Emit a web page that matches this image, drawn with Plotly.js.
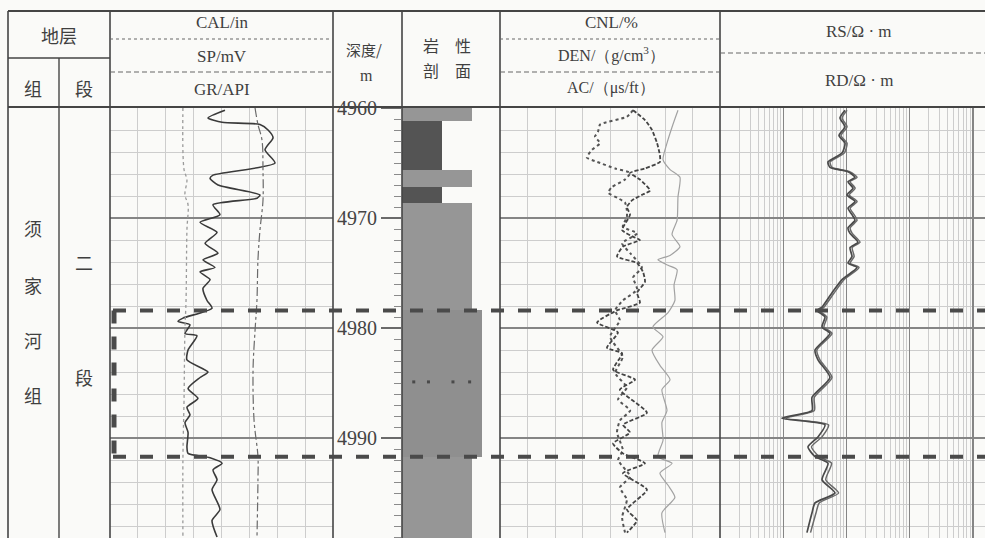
<!DOCTYPE html>
<html><head><meta charset="utf-8">
<script src="https://cdn.plot.ly/plotly-3.0.1.min.js"></script>
<style>html,body{margin:0;padding:0;background:#fafaf8;}</style>
</head><body><div id="chart" style="width:985px;height:538px;"></div>
<script>
// ---------------- data ----------------
const gr_depth = [4960.2,4960.9,4961.3,4961.5,4962.0,4962.7,4963.8,4965.0,4966.1,4966.4,4967.0,4967.9,4968.2,4968.8,4969.7,4970.4,4971.3,4972.3,4973.2,4973.8,4974.5,4974.9,4975.6,4976.4,4977.5,4978.2,4979.1,4979.4,4979.7,4980.5,4980.7,4982.0,4982.9,4984.0,4984.5,4985.5,4986.4,4987.2,4987.9,4988.6,4989.5,4990.8,4991.4,4991.8,4992.3,4992.9,4993.8,4994.7,4996.5,4997.5,4999.0];
const gr_api   = [82.5,70.3,80.4,107.6,113.4,117.0,111.2,118.4,73.9,71.8,77.5,107.6,105.5,73.9,78.9,64.6,76.8,68.2,77.5,66.7,75.3,64.6,71.8,66.7,69.6,73.2,52.4,48.8,57.4,53.8,62.4,56.0,55.2,70.3,64.6,56.0,63.1,55.2,57.4,53.8,56.0,55.2,56.0,71.8,80.4,73.9,76.8,73.2,78.9,73.2,76.8];

const cal_depth = [4960.0,4965.6,4966.5,4967.9,4968.8,4971.1,4977.5,4980.2,4986.5,4991.9,4999.1];
const cal_in    = [9.27,9.32,9.45,9.36,9.50,9.45,9.41,9.36,9.32,9.27,9.27];

const sp_depth = [4960.0,4961.5,4962.9,4965.6,4968.4,4971.1,4973.8,4977.5,4980.2,4983.8,4988.4,4991.7,4993.8,4999.1];
const sp_mv    = [30.1,32.7,36.3,37.2,37.2,34.5,32.7,31.8,30.1,28.3,29.2,32.7,32.7,31.8];

const cnl_depth = [4960.2,4960.8,4961.5,4962.2,4962.6,4963.2,4963.8,4964.5,4964.9,4965.5,4965.9,4966.5,4967.2,4967.7,4968.2,4968.6,4969.3,4969.9,4970.8,4971.4,4972.3,4973.2,4974.5,4975.4,4976.5,4977.5,4978.4,4979.3,4980.8,4982.6,4984.1,4985.4,4986.5,4987.5,4988.4,4989.5,4991.1,4992.0,4993.5,4994.5,4995.6,4997.2,4998.6];
const cnl_pct   = [8.7,10.4,17.7,18.3,19.1,17.7,19.9,21.3,18.5,13.6,9.5,10.9,14.5,15.5,12.8,10.9,10.4,10.4,11.5,7.6,11.7,9.5,6.3,8.7,7.6,11.5,13.6,12.3,15.0,11.5,13.6,10.4,12.8,9.5,12.3,13.1,11.5,12.8,9.5,12.3,10.4,11.7,10.9];

const den_depth = [4960.2,4961.1,4962.0,4963.2,4964.3,4964.9,4965.5,4965.9,4966.5,4967.5,4967.9,4968.4,4969.0,4969.7,4971.1,4971.7,4972.0,4972.6,4973.5,4974.1,4974.9,4975.8,4976.8,4977.7,4978.4,4979.5,4980.4,4981.8,4982.3,4983.8,4984.7,4985.6,4987.7,4988.8,4989.5,4990.5,4991.4,4992.3,4993.2,4994.7,4996.5,4997.5,4998.6];
const den_gcc   = [2.555,2.609,2.641,2.664,2.677,2.677,2.609,2.541,2.586,2.632,2.595,2.550,2.527,2.541,2.505,2.555,2.586,2.509,2.482,2.573,2.600,2.609,2.573,2.586,2.482,2.391,2.486,2.436,2.505,2.464,2.564,2.495,2.618,2.509,2.541,2.464,2.509,2.609,2.509,2.618,2.527,2.573,2.527];

const ac_depth = [4960.2,4961.5,4963.2,4964.7,4965.6,4966.3,4968.1,4970.2,4971.5,4972.6,4973.4,4973.8,4974.3,4974.7,4976.1,4977.5,4978.6,4979.9,4980.8,4982.0,4983.4,4984.7,4985.6,4987.5,4988.6,4990.2,4991.7,4992.3,4993.2,4994.3,4995.4,4996.8,4998.6];
const ac_usft  = [59.1,61.4,64.1,65.9,62.7,58.2,59.1,59.5,61.8,58.2,62.7,68.2,63.6,59.5,60.9,60.5,63.6,70.5,65.9,70.9,67.3,62.7,66.4,64.1,66.4,65.9,68.2,61.8,67.3,63.6,60.5,66.4,65.0];

const res_depth = [4960.2,4960.9,4961.7,4962.5,4963.2,4964.1,4964.9,4965.4,4965.8,4966.3,4966.7,4967.3,4967.9,4968.5,4969.1,4969.7,4970.2,4970.9,4971.4,4972.2,4972.7,4973.5,4974.1,4974.5,4975.6,4976.8,4978.1,4978.4,4979.0,4979.9,4980.5,4982.0,4982.9,4984.5,4986.3,4987.5,4988.2,4988.8,4989.9,4990.8,4991.7,4992.3,4993.8,4995.0,4995.9,4996.8,4998.6];
const rs_ohmm  = [94.7,78.9,94.7,76.1,94.7,84.9,51.0,54.8,105.6,136.3,105.6,126.7,101.8,136.3,105.6,122.2,136.3,105.6,113.6,152.0,113.6,122.2,105.6,146.6,84.9,59.0,41.0,34.2,45.7,41.0,54.8,31.8,35.4,54.8,28.5,28.5,9.5,45.7,35.4,24.6,31.8,51.0,41.0,65.8,31.8,28.5,23.7];
const rd_ohmm  = [102,85,102,82,102,92,55,59,114,147,114,137,110,147,114,132,147,114,123,164,123,132,114,158,92,64,44,37,49,44,59,34,38,59,31,31,11,52,41,28,37,58,47,75,37,33,27];

const litho_top    = [4960.0,4961.2,4965.6,4967.2,4968.6,4978.4,4991.7];
const litho_bottom = [4961.2,4965.6,4967.2,4968.6,4978.4,4991.7,4999.1];
const litho_type   = ['细砂岩','泥岩','细砂岩','泥岩','细砂岩','中砂岩','细砂岩'];
const litho_mark_depth = 4984.9;
const litho_mark_x = [1.2,2.7,5.2,6.9];

const interval_top = 4978.4;
const interval_bottom = 4991.7;

const depth_ticks = [4960,4970,4980,4990];

// ---------------- styling helpers ----------------
const W = 985, H = 538, HEAD = 107;
const px = v => v / W;
const py = v => 1 - v / H;
const DEPTH_RANGE = [4960 + (H - 108) / 11, 4960 - 1 / 11];
const SERIF = '"Liberation Serif","DejaVu Serif",serif';
const CJK = '"Noto Sans CJK SC","Noto Sans CJK JP",sans-serif';
const INK = '#3f3f3f';
const GRIDL = '#cdcdcd', GRIDH = '#858585';

const lithoWidth = {'泥岩':4.1,'细砂岩':7.1,'中砂岩':8.2};
const lithoColor = {'泥岩':'#545454','细砂岩':'#969696','中砂岩':'#8f8f8f'};

const traces = [
  {x: gr_api, y: gr_depth, xaxis:'x', yaxis:'y', mode:'lines', line:{color:'#3a3a3a', width:1.6, shape:'spline', smoothing:0.6}},
  {x: cal_in, y: cal_depth, xaxis:'x2', yaxis:'y', mode:'lines', line:{color:'#9a9a9a', width:1.3, dash:'dot', shape:'spline'}},
  {x: sp_mv, y: sp_depth, xaxis:'x3', yaxis:'y', mode:'lines', line:{color:'#6a6a6a', width:1.2, dash:'dashdot', shape:'spline'}},
  {type:'bar', orientation:'h', base:0,
   x: litho_type.map(t => lithoWidth[t]),
   y: litho_top.map((t,i) => (t + litho_bottom[i]) / 2),
   width: litho_top.map((t,i) => litho_bottom[i] - t),
   marker:{color: litho_type.map(t => lithoColor[t]), line:{width:0}},
   xaxis:'x4', yaxis:'y2'},
  {x: litho_mark_x, y: litho_mark_x.map(() => litho_mark_depth), xaxis:'x4', yaxis:'y2', mode:'markers',
   marker:{symbol:'square', size:3, color:'#4a4a4a'}},
  {x: ac_usft, y: ac_depth, xaxis:'x7', yaxis:'y3', mode:'lines', line:{color:'#a2a2a2', width:1.2, shape:'spline', smoothing:0.6}},
  {x: cnl_pct, y: cnl_depth, xaxis:'x5', yaxis:'y3', mode:'lines', line:{color:'#555', width:2, dash:'dot', shape:'spline', smoothing:0.5}},
  {x: den_gcc, y: den_depth, xaxis:'x6', yaxis:'y3', mode:'lines', line:{color:'#444', width:1.8, dash:'4px,2px', shape:'spline', smoothing:0.5}},
  {x: rd_ohmm, y: res_depth, xaxis:'x8', yaxis:'y4', mode:'lines', line:{color:'#6a6a6a', width:1.5, shape:'spline', smoothing:0.6}},
  {x: rs_ohmm, y: res_depth, xaxis:'x8', yaxis:'y4', mode:'lines', line:{color:'#4a4a4a', width:1.7, shape:'spline', smoothing:0.6}}
];

const hidden = {showticklabels:false, ticks:'', zeroline:false, showline:false, fixedrange:true};
const yGrid = Object.assign({}, hidden, {domain:[0, 1 - HEAD / H], range: DEPTH_RANGE, autorange:false,
  showgrid:true, tick0:4960, dtick:10, gridcolor:GRIDH, gridwidth:1.2,
  minor:{dtick:2, showgrid:true, gridcolor:GRIDL, gridwidth:1}});

const layout = {
  width: W, height: H, margin:{l:0,r:0,t:0,b:0,pad:0},
  paper_bgcolor:'#fafaf8', plot_bgcolor:'rgba(0,0,0,0)',
  showlegend:false, hovermode:false, bargap:0,
  xaxis: Object.assign({}, hidden, {domain:[px(110), px(333)], range:[0,160], anchor:'y', showgrid:true, dtick:20, gridcolor:GRIDL}),
  xaxis2: {overlaying:'x', anchor:'y', range:[6,16], visible:false},
  xaxis3: {overlaying:'x', anchor:'y', range:[-100,100], visible:false},
  xaxis4: Object.assign({}, hidden, {domain:[px(402), px(500)], range:[0,10], anchor:'y2', showgrid:false}),
  xaxis5: Object.assign({}, hidden, {domain:[px(500), px(720)], range:[45,-15], anchor:'y3', showgrid:true, tick0:0, dtick:7.5, gridcolor:GRIDL}),
  xaxis6: {overlaying:'x5', anchor:'y3', range:[1.95,2.95], visible:false},
  xaxis7: {overlaying:'x5', anchor:'y3', range:[140,40], visible:false},
  xaxis8: Object.assign({}, hidden, {domain:[px(720), 1], type:'log', range:[0, (W - 720) / 63.25], anchor:'y4',
    showgrid:true, dtick:1, gridcolor:GRIDH, gridwidth:1.2,
    minor:{dtick:'D1', showgrid:true, gridcolor:GRIDL, gridwidth:1}}),
  yaxis: Object.assign({}, yGrid, {anchor:'x'}),
  yaxis3: Object.assign({}, yGrid, {anchor:'x5'}),
  yaxis4: Object.assign({}, yGrid, {anchor:'x8'}),
  yaxis2: {domain:[0, 1 - HEAD / H], range: DEPTH_RANGE, autorange:false, anchor:'x4', side:'left',
    showgrid:false, zeroline:false, showline:false, fixedrange:true,
    tickmode:'array', tickvals: depth_ticks, ticktext: depth_ticks.map(String),
    ticks:'outside', ticklen:20, tickwidth:1.2, tickcolor:'#6a6a6a',
    tickfont:{family:SERIF, size:20, color:'#444'},
    minor:{ticks:'outside', ticklen:7, tickwidth:1, tickcolor:'#8a8a8a', tickmode:'linear', tick0:4960, dtick:1, showgrid:false}},
  shapes: [], annotations: []
};

// frame lines
function L(x0,y0,x1,y1,w,color,dash){
  layout.shapes.push({type:'line', xref:'paper', yref:'paper', x0:px(x0), x1:px(x1), y0:py(y0), y1:py(y1),
    line:{color:color||'#454545', width:w||1.5, dash:dash||'solid'}, layer:'above'});
}
L(8,11,985,11,2);
L(8,HEAD,985,HEAD,2);
L(8,58,110,58,1.5);
[8,110,333,402,500,720].forEach(x => L(x,11,x,H,1.6));
L(59,58,59,H,1.4);
L(110,39,333,39,1,'#666','dot');
L(110,72,333,72,1,'#666','5px,3px');
L(500,39,720,39,1,'#666','dot');
L(500,72,720,72,1,'#666','5px,3px');
L(720,53,985,53,1,'#666','5px,3px');

// interval boundary dashed lines
[interval_top, interval_bottom].forEach(d => layout.shapes.push({type:'line', xref:'paper', yref:'y', x0:px(113), x1:1, y0:d, y1:d,
  line:{color:'#4a4a4a', width:4, dash:'13px,14px'}, layer:'above'}));
layout.shapes.push({type:'line', xref:'paper', yref:'y', x0:px(114), x1:px(114), y0:interval_top, y1:interval_bottom,
  line:{color:'#4a4a4a', width:5, dash:'13px,13px'}, layer:'above'});

// texts
function T(text,x,y,size,family){
  layout.annotations.push({text:text, xref:'paper', yref:'paper', x:px(x), y:py(y), xanchor:'center', yanchor:'middle',
    showarrow:false, borderpad:0, font:{family:family||SERIF, size:size||17, color:INK}});
}
T('地层',59,35,18,CJK);
T('组',33,88,18,CJK);
T('段',84,88,18,CJK);
T('CAL/in',222,22,17);
T('SP/mV',222,56,17);
T('GR/API',222,90,17);
T('深度/',364,50,15,CJK);
T('m',366,75,16);
T('岩　性',447,45,16,CJK);
T('剖　面',447,70,16,CJK);
T('CNL/%',611,22,17);
T('DEN/（g/cm<sup>3</sup>）',611,55,16);
T('AC/（μs/ft）',611,88,16);
T('RS/Ω · m',859,32,17);
T('RD/Ω · m',859,80,17);
['须','家','河','组'].forEach((c,i) => T(c,33,[228,285,340,395][i],18,CJK));
T('二',84,262,18,CJK);
T('段',84,377,18,CJK);

Plotly.newPlot('chart', traces, layout, {displayModeBar:false, staticPlot:true});
</script></body></html>
